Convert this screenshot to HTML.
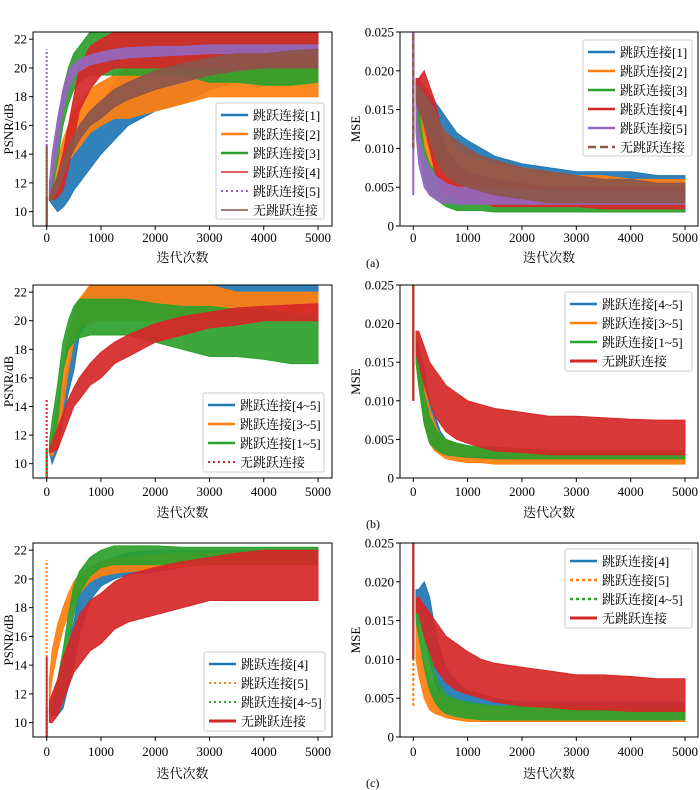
<!DOCTYPE html>
<html><head><meta charset="utf-8">
<style>
html,body{margin:0;padding:0;background:#fff;}
svg{display:block;font-family:"Liberation Serif","Noto Serif CJK SC",serif;}
</style></head>
<body>
<svg id="fig" width="700" height="790" viewBox="0 0 700 790"></svg>
<script>
// ---------- data ----------
const iters = [0,50,100,200,300,400,500,600,800,1000,1250,1500,2000,2500,3000,3500,4000,4500,5000];
const psnrTicks = [10,12,14,16,18,20,22];
const mseTicks = [0,0.005,0.010,0.015,0.020,0.025];
const mseTickLabels = ["0","0.005","0.010","0.015","0.020","0.025"];
const iterTicks = [0,1000,2000,3000,4000,5000];

// (a) PSNR
const aP_blueLo  =[9,10.8,10.5,10,10.3,10.8,11.5,12,13,14,15,16,17,17.5,18.5,19,19.5,19.5,20];
const aP_blueHi  =[11,11,11.2,12,13,14,15,15.5,16.5,17.5,19,20,21,21.5,22,22.5,22.5,22.5,22.5];
const aP_orangeLo=[9,10.8,11,11.5,12.5,13.5,14,14.5,15.5,16,16.5,16.5,17,17.5,18,18,18,18,18];
const aP_orangeHi=[11,11.2,12,13.5,15,16,17,17.5,18.5,19,19.5,20,20.5,21,21,21,21,21,21];
const aP_greenLo =[9,10.8,11.5,13.5,16,17.5,18.5,19,19.5,19.5,19.5,19.5,19.5,19.5,19,19,18.8,18.8,19];
const aP_greenHi =[11,11.5,13,16,18.5,20,21,21.5,22.5,22.5,22.5,22.5,22.5,22.5,22.5,22.5,22.5,22.5,22.5];
const aP_redLo   =[9,10.8,10.8,11,11.5,13,15,17,18.5,19.5,20,20,20,20,20,20,20,20,20];
const aP_redHi   =[11,11,11.5,12.5,14,16,18,20,21.5,22,22.5,22.5,22.5,22.5,22.5,22.5,22.5,22.5,22.5];
const aP_purpleLo=[9,11,12,14.5,17,18.5,19.3,19.8,20.2,20.4,20.6,20.7,20.8,20.9,21,21,21,21,21];
const aP_purpleHi=[11,12,14,16.5,18.5,19.8,20.3,20.6,20.9,21.1,21.3,21.4,21.5,21.5,21.6,21.6,21.6,21.6,21.6];
const aP_brownLo =[9,10.8,10.8,11.5,12.5,13.5,14.3,15,16,16.5,17.3,17.8,18.5,19,19.5,19.8,20,20,20];
const aP_brownHi =[11,11,11.5,12.5,13.5,14.5,15.3,16,17,17.7,18.5,19,19.8,20.3,20.7,21,21,21.2,21.3];
// (a) MSE
const aM_blueLo  =[0.010,0.015,0.014,0.012,0.010,0.009,0.008,0.007,0.006,0.005,0.0045,0.004,0.0035,0.003,0.003,0.003,0.003,0.003,0.003];
const aM_blueHi  =[0.025,0.019,0.019,0.018,0.017,0.016,0.015,0.014,0.012,0.011,0.010,0.009,0.008,0.0075,0.007,0.007,0.007,0.0065,0.0065];
const aM_orangeLo=[0.010,0.015,0.013,0.010,0.008,0.007,0.006,0.0055,0.005,0.0045,0.004,0.0035,0.003,0.003,0.003,0.0025,0.0025,0.0025,0.0025];
const aM_orangeHi=[0.025,0.018,0.018,0.016,0.015,0.014,0.013,0.012,0.010,0.009,0.0085,0.008,0.0075,0.007,0.0065,0.0065,0.006,0.006,0.006];
const aM_greenLo =[0.010,0.014,0.010,0.006,0.004,0.0035,0.003,0.0025,0.002,0.002,0.002,0.0018,0.0018,0.0018,0.0018,0.0018,0.0018,0.0018,0.0018];
const aM_greenHi =[0.025,0.017,0.015,0.010,0.008,0.007,0.006,0.0055,0.005,0.0045,0.0045,0.0045,0.0045,0.0045,0.0045,0.0045,0.0045,0.0045,0.0045];
const aM_redLo   =[0.010,0.016,0.015,0.013,0.010,0.007,0.005,0.004,0.0035,0.003,0.003,0.0025,0.0025,0.0025,0.0025,0.0022,0.0022,0.0022,0.0022];
const aM_redHi   =[0.025,0.019,0.019,0.020,0.018,0.016,0.013,0.010,0.008,0.007,0.0065,0.006,0.0055,0.005,0.005,0.005,0.005,0.005,0.005];
const aM_purpleLo=[0.004,0.012,0.008,0.005,0.004,0.0035,0.003,0.003,0.0028,0.0028,0.0028,0.0028,0.0028,0.0028,0.0028,0.0028,0.0028,0.0028,0.0028];
const aM_purpleHi=[0.025,0.016,0.012,0.009,0.0075,0.0065,0.006,0.0055,0.005,0.005,0.0048,0.0048,0.0046,0.0046,0.0045,0.0045,0.0045,0.0045,0.0045];
const aM_brownLo =[0.010,0.016,0.015,0.013,0.011,0.009,0.0075,0.0065,0.0055,0.005,0.0045,0.004,0.0035,0.003,0.003,0.003,0.003,0.003,0.003];
const aM_brownHi =[0.025,0.018,0.018,0.017,0.016,0.015,0.013,0.012,0.011,0.010,0.009,0.0085,0.0075,0.007,0.0065,0.006,0.006,0.0055,0.0055];
// (b) PSNR
const bP_blueLo  =[9,10.8,10,11,13,15,16.5,19,20,20.5,20.5,20.5,20.8,20.8,21,21,21,21,21];
const bP_blueHi  =[11,11,11.5,13,15,17,18.5,21,22.5,22.5,22.5,22.5,22.5,22.5,22.5,22.5,22.5,22.5,22.5];
const bP_orangeLo=[9,10.8,10.5,11.5,14,16.5,18.5,19.5,19.8,20,20,20,20,20,20,20,20,20,20];
const bP_orangeHi=[11,11,12,14,16.5,19,20.5,21.5,22.5,22.5,22.5,22.5,22.5,22.5,22.5,22,22,22,22];
const bP_greenLo =[9,10.8,11,13,16.5,18,18.5,18.8,19,19,19,19,18.5,18,17.5,17.5,17.3,17,17];
const bP_greenHi =[11,11.5,13,15.5,18.5,20,21,21.5,21.5,21.5,21.5,21.5,21.2,21,21,20.8,20.8,20.5,20.5];
const bP_redLo   =[9,10.8,10.8,11,12,13,14,14.5,15.5,16,17,17.5,18.5,19,19.5,19.7,20,20,20];
const bP_redHi   =[11,11,11.5,12.5,13.5,14.5,15.3,16,17,17.8,18.5,19,19.8,20.3,20.6,20.9,21,21.1,21.2];
// (b) MSE
const bM_blueLo  =[0.010,0.015,0.013,0.008,0.005,0.004,0.0035,0.003,0.0028,0.0026,0.0025,0.0024,0.0022,0.0022,0.0022,0.0022,0.0022,0.0022,0.0022];
const bM_blueHi  =[0.025,0.018,0.017,0.014,0.010,0.008,0.006,0.005,0.0045,0.0042,0.004,0.0038,0.0036,0.0035,0.0034,0.0034,0.0034,0.0034,0.0034];
const bM_orangeLo=[0.010,0.015,0.012,0.007,0.0045,0.0035,0.003,0.0025,0.0022,0.002,0.002,0.0018,0.0018,0.0018,0.0018,0.0018,0.0018,0.0018,0.0018];
const bM_orangeHi=[0.025,0.018,0.016,0.012,0.009,0.007,0.0055,0.005,0.0045,0.004,0.004,0.0038,0.0036,0.0035,0.0035,0.0035,0.0035,0.0035,0.0035];
const bM_greenLo =[0.010,0.015,0.012,0.007,0.0045,0.0038,0.0033,0.003,0.0028,0.0027,0.0026,0.0025,0.0025,0.0025,0.0025,0.0025,0.0025,0.0025,0.0025];
const bM_greenHi =[0.025,0.018,0.016,0.011,0.008,0.0065,0.0055,0.005,0.0045,0.0042,0.004,0.004,0.0038,0.0036,0.0035,0.0035,0.0035,0.0035,0.0035];
const bM_redLo   =[0.010,0.016,0.015,0.012,0.010,0.008,0.007,0.006,0.005,0.0045,0.004,0.0035,0.0033,0.003,0.003,0.003,0.003,0.003,0.003];
const bM_redHi   =[0.025,0.019,0.019,0.017,0.015,0.014,0.013,0.012,0.011,0.010,0.0095,0.009,0.0085,0.008,0.008,0.0078,0.0076,0.0075,0.0075];
// (c) PSNR
const cP_blueLo  =[9,10.8,10.5,10.5,11,12.5,14,16,18.5,19.5,20,20.3,20.5,20.8,21,21,21,21,21];
const cP_blueHi  =[11,11,11.5,12.5,14,15.5,17,19,20.5,21.2,21.5,21.8,22,22,22,22,22,22,22];
const cP_orangeLo=[9,11.5,13,15,16.5,17.5,18.5,19,19.8,20.2,20.4,20.5,20.7,20.8,21,21,21,21,21];
const cP_orangeHi=[11,13,15,16.8,18,19,19.8,20.3,20.8,21.2,21.4,21.5,21.7,21.8,21.8,21.8,21.8,21.8,21.8];
const cP_greenLo =[9,10.8,11,12,13.5,15.5,17.5,19,20.2,20.8,21,21,21,21,21,21,21,21,21];
const cP_greenHi =[11,11,11.5,13,15,17.5,19.5,20.5,21.5,22,22.3,22.3,22.3,22.2,22.2,22.2,22.2,22.2,22.2];
const cP_redLo   =[9,10,10,10.5,11.5,12.5,13.5,14,15,15.5,16.5,17,17.5,18,18.5,18.5,18.5,18.5,18.5];
const cP_redHi   =[11,11.5,12,13,14.5,15.5,16.5,17.5,18.5,19,19.8,20.3,20.8,21.2,21.5,21.8,22,22,22];
// (c) MSE
const cM_blueLo  =[0.010,0.016,0.015,0.013,0.010,0.007,0.005,0.004,0.0035,0.003,0.0028,0.0026,0.0025,0.0025,0.0025,0.0025,0.0025,0.0025,0.0025];
const cM_blueHi  =[0.025,0.019,0.019,0.020,0.018,0.014,0.011,0.009,0.007,0.006,0.0055,0.005,0.0045,0.0045,0.0045,0.0045,0.0045,0.0045,0.0045];
const cM_orangeLo=[0.004,0.010,0.008,0.005,0.0035,0.003,0.0028,0.0025,0.0022,0.002,0.002,0.002,0.002,0.002,0.002,0.002,0.002,0.002,0.002];
const cM_orangeHi=[0.025,0.017,0.013,0.009,0.007,0.006,0.0055,0.005,0.0045,0.0042,0.004,0.004,0.0038,0.0038,0.0038,0.0038,0.0038,0.0038,0.0038];
const cM_greenLo =[0.010,0.015,0.013,0.009,0.006,0.0045,0.0035,0.003,0.0026,0.0024,0.0022,0.0022,0.0022,0.0022,0.0022,0.0022,0.0022,0.0022,0.0022];
const cM_greenHi =[0.025,0.018,0.017,0.014,0.011,0.008,0.0065,0.0055,0.0048,0.0045,0.0042,0.004,0.004,0.004,0.004,0.004,0.004,0.004,0.004];
const cM_redLo   =[0.010,0.016,0.016,0.013,0.011,0.009,0.008,0.007,0.006,0.0055,0.005,0.0045,0.004,0.0038,0.0035,0.0035,0.0033,0.0033,0.0033];
const cM_redHi   =[0.025,0.018,0.018,0.017,0.016,0.015,0.014,0.013,0.012,0.011,0.010,0.0095,0.009,0.0085,0.008,0.008,0.0078,0.0075,0.0075];

// ---------- drawing ----------
const NS="http://www.w3.org/2000/svg";
const svg=document.getElementById('fig');
const C={blue:'#1f77b4',orange:'#ff7f0e',green:'#2ca02c',red:'#d62728',purple:'#9467bd',brown:'#8c564b'};
function el(tag,attrs,parent){const e=document.createElementNS(NS,tag);for(const k in attrs)e.setAttribute(k,attrs[k]);(parent||svg).appendChild(e);return e;}

let clipId=0;
function plot(cfg){
  const g=el('g',{});
  
  
  const L=cfg.box[0],T=cfg.box[1],R=cfg.box[2],B=cfg.box[3];
  const sx=v=>cfg.x0+(v/5000)*(cfg.x1-cfg.x0);
  const sy=v=>B-(v-cfg.ymin)/(cfg.ymax-cfg.ymin)*(B-T);
  const id='clip'+(clipId++);
  const cp=el('clipPath',{id:id},g);el('rect',{x:L,y:T,width:R-L,height:B-T},cp);
  const dg=el('g',{'clip-path':'url(#'+id+')'},g);
  cfg.series.forEach(s=>{
    let pts=[];
    for(let i=1;i<iters.length;i++)pts.push(sx(iters[i]).toFixed(1)+','+sy(s.hi[i]).toFixed(1));
    for(let i=iters.length-1;i>=1;i--)pts.push(sx(iters[i]).toFixed(1)+','+sy(s.lo[i]).toFixed(1));
    const p=el('polygon',{points:pts.join(' '),fill:s.c,stroke:s.c,'stroke-width':1,'fill-opacity':0.92},dg);
    
    
    const sp=el('line',{x1:sx(0),x2:sx(0),y1:sy(s.lo[0]),y2:sy(s.hi[0]),stroke:s.c,'stroke-width':2,'stroke-dasharray':s.dash||''},dg);
    
    
  });
  el('rect',{x:L,y:T,width:R-L,height:B-T,fill:'none',stroke:'#000','stroke-width':1},g);
  iterTicks.forEach(t=>{
    el('line',{x1:sx(t),x2:sx(t),y1:B,y2:B+4,stroke:'#000'},g);
    const tx=el('text',{x:sx(t),y:B+cfg.tk,'font-size':13,'text-anchor':'middle'},g);tx.textContent=t;
    
    
  });
  cfg.yt.forEach((t,i)=>{
    el('line',{x1:L-4,x2:L,y1:sy(t),y2:sy(t),stroke:'#000'},g);
    const tx=el('text',{x:L-6,y:sy(t)+4.5,'font-size':13,'text-anchor':'end'},g);tx.textContent=cfg.ytl[i];
    
    
  });
  const xl=el('text',{x:(L+R)/2,y:B+cfg.tt,'font-size':13,'text-anchor':'middle'},g);xl.textContent='迭代次数';
  
  
  const yx=cfg.ylx, yy=(T+B)/2;
  const yl=el('text',{x:yx,y:yy,'font-size':13,'text-anchor':'middle',transform:'rotate(-90 '+yx+' '+yy+')'},g);yl.textContent=cfg.ylabel;
  
  
  const lg=cfg.leg;
  const lgG=el('g',{},g);
  
  
  el('rect',{x:lg.x,y:lg.y,width:lg.w,height:lg.h,fill:'#fff','fill-opacity':0.8,stroke:'#ccc',rx:2},lgG);
  cfg.series.forEach((s,i)=>{
    const yy2=lg.y+12+i*19;
    el('line',{x1:lg.x+5,x2:lg.x+32,y1:yy2,y2:yy2,stroke:s.c,'stroke-width':s.lw||2.5,'stroke-dasharray':s.ldash||''},lgG);
    const t=el('text',{x:lg.x+37,y:yy2+5,'font-size':13},lgG);t.textContent=s.label;
    
    
  });
}
const LB=[33,332],RB=[400,698];
const rows=[[32,226],[285,478],[543,737]];
const tkOff=[16,18,19], ttOff=[36,39,41];
const P={x0:46.7,x1:318,ymin:9,ymax:22.5,yt:psnrTicks,ytl:psnrTicks.map(String),ylabel:'PSNR/dB',ylx:13};
const M={x0:413.3,x1:685,ymin:0,ymax:0.025,yt:mseTicks,ytl:mseTickLabels,ylabel:'MSE',ylx:360};
function S(key,c,lo,hi,label,o){return Object.assign({key:key,c:c,lo:lo,hi:hi,label:label},o||{});}
const DOT={ldash:'2,3',lw:2,dash:'2,2'};
function R(i){return {tk:tkOff[i],tt:ttOff[i]};}

plot(Object.assign({},P,R(0),{name:'plot-a-psnr',box:[LB[0],rows[0][0],LB[1],rows[0][1]],leg:{x:216,y:103,w:108,h:116},series:[
  S('a1',C.blue,aP_blueLo,aP_blueHi,'跳跃连接[1]'),S('a2',C.orange,aP_orangeLo,aP_orangeHi,'跳跃连接[2]'),
  S('a3',C.green,aP_greenLo,aP_greenHi,'跳跃连接[3]'),S('a4',C.red,aP_redLo,aP_redHi,'跳跃连接[4]',{lw:1.5}),
  S('a5',C.purple,[9].concat(aP_purpleLo.slice(1)),[21.3].concat(aP_purpleHi.slice(1)),'跳跃连接[5]',DOT),
  S('a6',C.brown,[9].concat(aP_brownLo.slice(1)),[14.6].concat(aP_brownHi.slice(1)),'无跳跃连接',{lw:1.5})]}));
plot(Object.assign({},M,R(0),{name:'plot-a-mse',box:[RB[0],rows[0][0],RB[1],rows[0][1]],leg:{x:583,y:40,w:109,h:116},series:[
  S('b1',C.blue,aM_blueLo,aM_blueHi,'跳跃连接[1]'),S('b2',C.orange,aM_orangeLo,aM_orangeHi,'跳跃连接[2]'),
  S('b3',C.green,aM_greenLo,aM_greenHi,'跳跃连接[3]'),S('b4',C.red,aM_redLo,aM_redHi,'跳跃连接[4]'),
  S('b5',C.purple,aM_purpleLo,aM_purpleHi,'跳跃连接[5]'),S('b6',C.brown,aM_brownLo,aM_brownHi,'无跳跃连接',{ldash:'8,4',dash:'6,3'})]}));
plot(Object.assign({},P,R(1),{name:'plot-b-psnr',box:[LB[0],rows[1][0],LB[1],rows[1][1]],leg:{x:203,y:393,w:121,h:79},series:[
  S('c1',C.blue,bP_blueLo,bP_blueHi,'跳跃连接[4~5]'),S('c2',C.orange,bP_orangeLo,bP_orangeHi,'跳跃连接[3~5]'),
  S('c3',C.green,bP_greenLo,bP_greenHi,'跳跃连接[1~5]'),
  S('c4',C.red,[9].concat(bP_redLo.slice(1)),[14.6].concat(bP_redHi.slice(1)),'无跳跃连接',DOT)]}));
plot(Object.assign({},M,R(1),{name:'plot-b-mse',box:[RB[0],rows[1][0],RB[1],rows[1][1]],leg:{x:565,y:292,w:127,h:79},series:[
  S('d1',C.blue,bM_blueLo,bM_blueHi,'跳跃连接[4~5]'),S('d2',C.orange,bM_orangeLo,bM_orangeHi,'跳跃连接[3~5]'),
  S('d3',C.green,bM_greenLo,bM_greenHi,'跳跃连接[1~5]'),S('d4',C.red,bM_redLo,bM_redHi,'无跳跃连接',{lw:3})]}));
plot(Object.assign({},P,R(2),{name:'plot-c-psnr',box:[LB[0],rows[2][0],LB[1],rows[2][1]],leg:{x:204,y:652,w:121,h:79},series:[
  S('e1',C.blue,cP_blueLo,cP_blueHi,'跳跃连接[4]'),
  S('e2',C.orange,[9].concat(cP_orangeLo.slice(1)),[21.3].concat(cP_orangeHi.slice(1)),'跳跃连接[5]',DOT),
  S('e3',C.green,cP_greenLo,cP_greenHi,'跳跃连接[4~5]',DOT),
  S('e4',C.red,[9].concat(cP_redLo.slice(1)),[14.6].concat(cP_redHi.slice(1)),'无跳跃连接',{lw:3})]}));
plot(Object.assign({},M,R(2),{name:'plot-c-mse',box:[RB[0],rows[2][0],RB[1],rows[2][1]],leg:{x:565,y:549,w:127,h:79},series:[
  S('f1',C.blue,cM_blueLo,cM_blueHi,'跳跃连接[4]'),
  S('f2',C.orange,cM_orangeLo,cM_orangeHi,'跳跃连接[5]',{ldash:'3,3',dash:'3,2'}),
  S('f3',C.green,cM_greenLo,cM_greenHi,'跳跃连接[4~5]',{ldash:'3,3'}),
  S('f4',C.red,cM_redLo,cM_redHi,'无跳跃连接',{lw:3})]}));
[['(a)',267],['(b)',528],['(c)',787]].forEach(a=>{
  const t=el('text',{x:366,y:a[1],'font-size':12});t.textContent=a[0];
  
  
});
</script>
</body></html>
